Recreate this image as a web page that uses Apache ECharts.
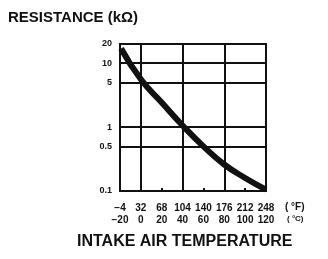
<!DOCTYPE html>
<html><head><meta charset="utf-8">
<script src="https://cdn.jsdelivr.net/npm/echarts@6/dist/echarts.min.js"></script>
<style>html,body{margin:0;padding:0;background:#fff}#c{width:328px;height:259px}</style>
</head><body><div id="c"></div>
<script>
const tempC = [-19, 0, 20, 40, 60, 80, 100, 120];
const resistance = [17, 5.6, 2.43, 1.06, 0.5, 0.26, 0.16, 0.105];
const celsiusTicks = [-20, 0, 20, 40, 60, 80, 100, 120];
const fahrenheitLabels = ['\u22124', '32', '68', '104', '140', '176', '212', '248'];
const celsiusLabels = ['\u221220', '0', '20', '40', '60', '80', '100', '120'];
const resistanceTicks = [0.1, 0.5, 1, 5, 10, 20];
const gridTempC = [0, 40, 80];

const FONT = '"Liberation Sans", Arial, Helvetica, sans-serif';
const INK = '#111';
const chart = echarts.init(document.getElementById('c'), null, {renderer: 'canvas'});
chart.setOption({
  animation: false,
  backgroundColor: '#fff',
  grid: {left: 120, right: 62, top: 44, bottom: 68, show: true, borderColor: INK, borderWidth: 2, backgroundColor: 'transparent'},
  xAxis: [{
    type: 'value', min: -20, max: 120, interval: 20,
    axisLine: {show: true, onZero: false, lineStyle: {color: INK, width: 2}},
    axisTick: {show: true, inside: true, length: 3, lineStyle: {color: INK, width: 2}},
    splitLine: {show: false},
    axisLabel: {
      margin: 11, fontFamily: FONT, color: INK, lineHeight: 12,
      formatter: function (v) {
        const i = celsiusTicks.indexOf(v);
        if (i < 0) return '';
        return '{f|' + fahrenheitLabels[i] + '}\n{c|' + celsiusLabels[i] + '}';
      },
      rich: {
        f: {fontSize: 10, fontWeight: 'bold', fontFamily: FONT, color: INK, lineHeight: 12},
        c: {fontSize: 10, fontWeight: 'bold', fontFamily: FONT, color: INK, lineHeight: 12}
      }
    }
  }, {
    type: 'value', min: -20, max: 120, position: 'bottom',
    axisLine: {show: false}, axisLabel: {show: false},
    axisTick: {show: false, customValues: gridTempC},
    splitLine: {show: true, lineStyle: {color: INK, width: 2}}
  }],
  yAxis: {
    type: 'log', logBase: 10, min: 0.1, max: 20,
    axisLine: {show: true, lineStyle: {color: INK, width: 2}},
    axisTick: {show: true, inside: false, length: 3, customValues: resistanceTicks, lineStyle: {color: INK, width: 2}},
    splitLine: {show: true, lineStyle: {color: INK, width: 2}},
    axisLabel: {
      customValues: resistanceTicks, margin: 8, fontSize: 9, fontWeight: 'bold', fontFamily: FONT, color: INK,
      formatter: function (v) { return String(+v.toPrecision(3)); }
    }
  },
  graphic: [
    {type: 'text', x: 8, y: 18, style: {text: 'RESISTANCE (k\u03A9)', font: 'bold 15px ' + FONT, fill: INK, textVerticalAlign: 'middle'}},
    {type: 'text', x: 285, y: 207, style: {text: '( \u00B0F)', font: 'bold 10px ' + FONT, fill: INK, textVerticalAlign: 'middle'}},
    {type: 'text', x: 287, y: 219, style: {text: '( \u00B0C)', font: 'bold 8px ' + FONT, fill: INK, textVerticalAlign: 'middle'}},
    {type: 'text', x: 77, y: 242, style: {text: 'INTAKE AIR TEMPERATURE', font: 'bold 16px ' + FONT, fill: INK, textVerticalAlign: 'middle'}}
  ],
  series: [{
    type: 'line', xAxisIndex: 0, smooth: 0.5, showSymbol: false,
    data: tempC.map(function (t, i) { return [t, resistance[i]]; }),
    lineStyle: {color: INK, width: 6, cap: 'butt'}
  }]
});
</script></body></html>
